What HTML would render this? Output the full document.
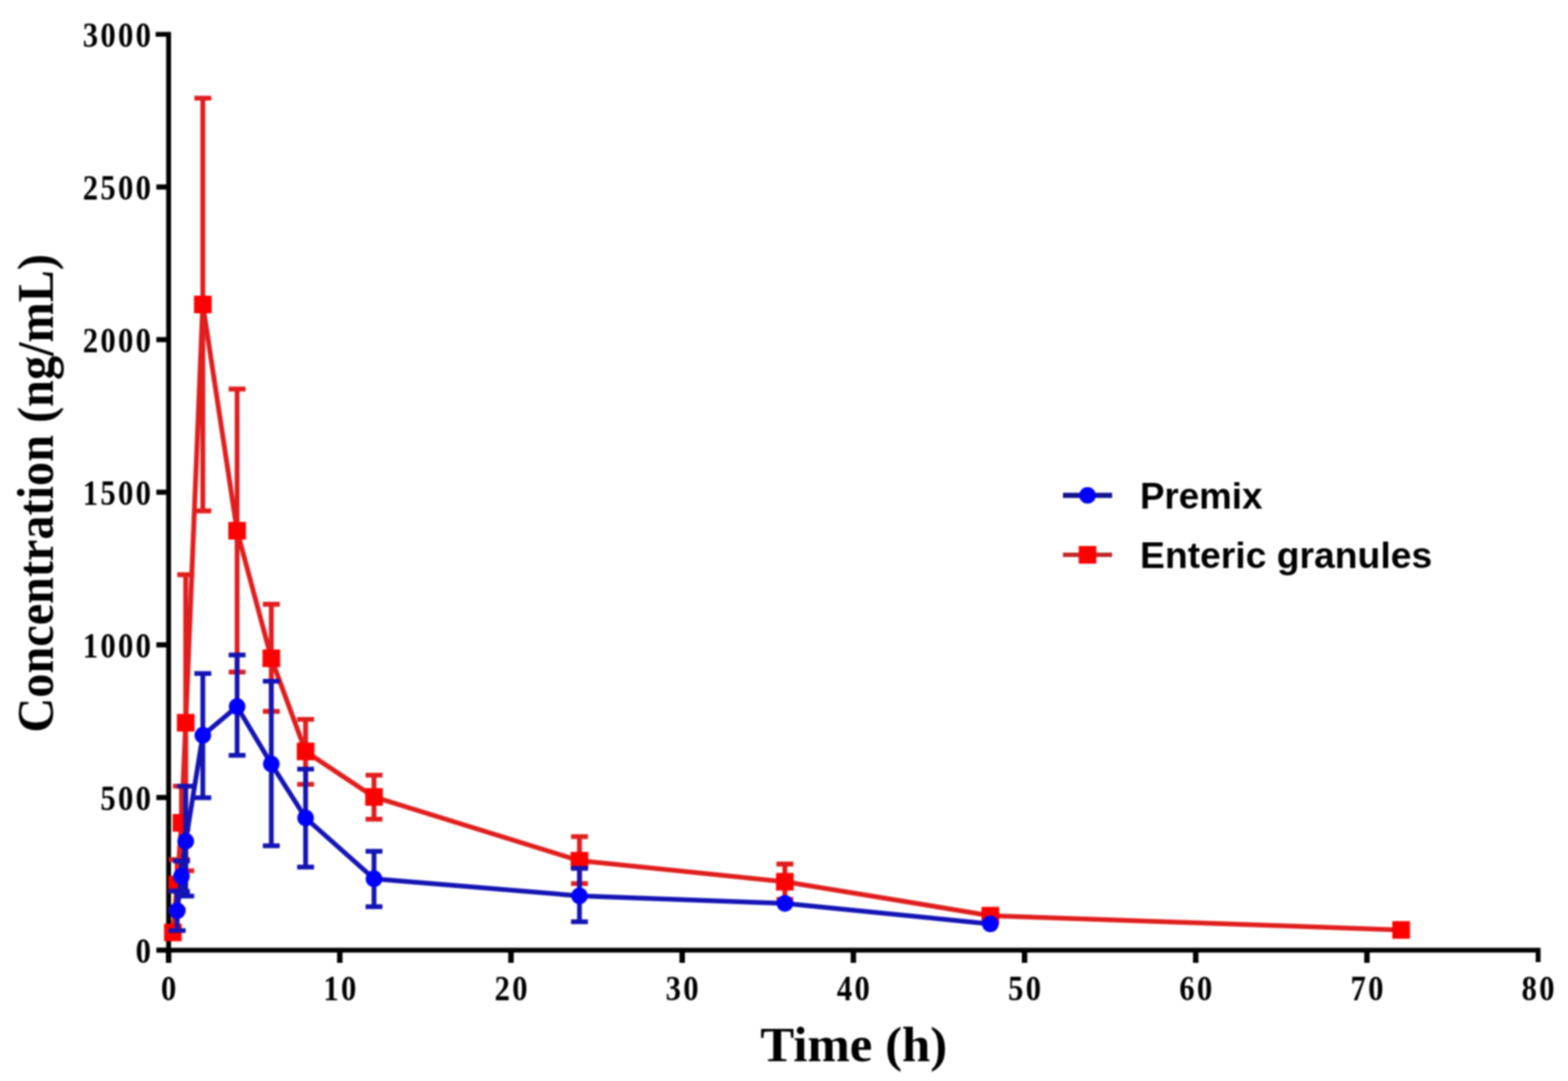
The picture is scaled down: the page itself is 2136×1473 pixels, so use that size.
<!DOCTYPE html>
<html><head><meta charset="utf-8"><title>Concentration vs Time</title>
<style>
html,body{margin:0;padding:0;background:#fff;}
body{width:2136px;height:1473px;overflow:hidden;}
svg{display:block;filter:blur(1.0px);}
.tk{font-family:"Liberation Serif",serif;font-weight:bold;font-size:48px;fill:#000;}
.ttl{font-family:"Liberation Serif",serif;font-weight:bold;font-size:70px;fill:#000;}
.ttl2{font-family:"Liberation Serif",serif;font-weight:bold;font-size:68px;fill:#000;}
.lg{font-family:"Liberation Sans",sans-serif;font-weight:bold;font-size:50px;fill:#000;}
</style></head>
<body>
<svg width="2136" height="1473" viewBox="0 0 2136 1473">
<rect width="2136" height="1473" fill="#fff"/>
<path d="M212 46.8H229.7V1294.7H2095.3V1311" stroke="#000" stroke-width="6.6" fill="none" stroke-linejoin="miter"/>
<path d="M213 1294.7H229.7" stroke="#000" stroke-width="7.0"/>
<path d="M213 1086.7H229.7" stroke="#000" stroke-width="7.0"/>
<path d="M213 878.7H229.7" stroke="#000" stroke-width="7.0"/>
<path d="M213 670.7H229.7" stroke="#000" stroke-width="7.0"/>
<path d="M213 462.8H229.7" stroke="#000" stroke-width="7.0"/>
<path d="M213 254.8H229.7" stroke="#000" stroke-width="7.0"/>
<path d="M229.7 1294.7V1312" stroke="#000" stroke-width="7.4"/>
<path d="M462.9 1294.7V1312" stroke="#000" stroke-width="7.4"/>
<path d="M696.1 1294.7V1312" stroke="#000" stroke-width="7.4"/>
<path d="M929.3 1294.7V1312" stroke="#000" stroke-width="7.4"/>
<path d="M1162.5 1294.7V1312" stroke="#000" stroke-width="7.4"/>
<path d="M1395.7 1294.7V1312" stroke="#000" stroke-width="7.4"/>
<path d="M1628.9 1294.7V1312" stroke="#000" stroke-width="7.4"/>
<path d="M1862.1 1294.7V1312" stroke="#000" stroke-width="7.4"/>
<text class="tk" transform="scale(0.87 1)" x="224.37" y="1312.0" text-anchor="middle">0</text>
<text class="tk" transform="scale(0.87 1)" x="169.20 196.78 224.37" y="1104.0" text-anchor="middle">500</text>
<text class="tk" transform="scale(0.87 1)" x="141.61 169.20 196.78 224.37" y="896.0" text-anchor="middle">1000</text>
<text class="tk" transform="scale(0.87 1)" x="141.61 169.20 196.78 224.37" y="688.0" text-anchor="middle">1500</text>
<text class="tk" transform="scale(0.87 1)" x="141.61 169.20 196.78 224.37" y="480.1" text-anchor="middle">2000</text>
<text class="tk" transform="scale(0.87 1)" x="141.61 169.20 196.78 224.37" y="272.1" text-anchor="middle">2500</text>
<text class="tk" transform="scale(0.87 1)" x="141.61 169.20 196.78 224.37" y="64.1" text-anchor="middle">3000</text>
<text class="tk" transform="scale(0.87 1)" x="264.02" y="1363.0" text-anchor="middle">0</text>
<text class="tk" transform="scale(0.87 1)" x="518.28 545.86" y="1363.0" text-anchor="middle">10</text>
<text class="tk" transform="scale(0.87 1)" x="786.32 813.91" y="1363.0" text-anchor="middle">20</text>
<text class="tk" transform="scale(0.87 1)" x="1054.37 1081.95" y="1363.0" text-anchor="middle">30</text>
<text class="tk" transform="scale(0.87 1)" x="1322.41 1350.00" y="1363.0" text-anchor="middle">40</text>
<text class="tk" transform="scale(0.87 1)" x="1590.46 1618.05" y="1363.0" text-anchor="middle">50</text>
<text class="tk" transform="scale(0.87 1)" x="1858.51 1886.09" y="1363.0" text-anchor="middle">60</text>
<text class="tk" transform="scale(0.87 1)" x="2126.55 2154.14" y="1363.0" text-anchor="middle">70</text>
<text class="tk" transform="scale(0.87 1)" x="2394.60 2422.18" y="1363.0" text-anchor="middle">80</text>
<text class="ttl" transform="translate(72 672.2) rotate(-90)" text-anchor="middle" textLength="652" lengthAdjust="spacingAndGlyphs">Concentration (ng/mL)</text>
<text class="ttl2" x="1163" y="1446" text-anchor="middle" textLength="254.5" lengthAdjust="spacingAndGlyphs">Time (h)</text>
<path d="M241.4 1171.2V1239.4M229.9 1171.2H252.9M229.9 1239.4H252.9" stroke="#e01e1e" stroke-width="6.6" fill="none"/>
<path d="M247.2 1071.3V1171.2M235.7 1071.3H258.7M235.7 1171.2H258.7" stroke="#e01e1e" stroke-width="6.6" fill="none"/>
<path d="M253.0 783.1V1186.5M241.5 783.1H264.5M241.5 1186.5H264.5" stroke="#e01e1e" stroke-width="6.6" fill="none"/>
<path d="M276.3 133.7V696.1M264.8 133.7H287.8M264.8 696.1H287.8" stroke="#e01e1e" stroke-width="6.6" fill="none"/>
<path d="M323.0 530.1V915.8M311.5 530.1H334.5M311.5 915.8H334.5" stroke="#e01e1e" stroke-width="6.6" fill="none"/>
<path d="M369.6 823.4V969.4M358.1 823.4H381.1M358.1 969.4H381.1" stroke="#e01e1e" stroke-width="6.6" fill="none"/>
<path d="M416.3 980.2V1068.8M404.8 980.2H427.8M404.8 1068.8H427.8" stroke="#e01e1e" stroke-width="6.6" fill="none"/>
<path d="M509.5 1056.3V1116.2M498.0 1056.3H521.0M498.0 1116.2H521.0" stroke="#e01e1e" stroke-width="6.6" fill="none"/>
<path d="M789.4 1140.0V1204.0M777.9 1140.0H800.9M777.9 1204.0H800.9" stroke="#e01e1e" stroke-width="6.6" fill="none"/>
<path d="M1069.2 1177.4V1225.6M1057.7 1177.4H1080.7M1057.7 1225.6H1080.7" stroke="#e01e1e" stroke-width="6.6" fill="none"/>
<polyline points="235.5,1270.6 241.4,1205.3 247.2,1121.2 253.0,984.8 276.3,414.9 323.0,723.2 369.6,897.0 416.3,1023.9 509.5,1085.9 789.4,1172.8 1069.2,1201.5 1349.1,1247.7 1908.7,1267.2" stroke="#e01e1e" stroke-width="6.6" fill="none" stroke-linejoin="round"/>
<rect x="223.5" y="1258.6" width="24" height="24" fill="#ff0000"/>
<rect x="229.4" y="1193.3" width="24" height="24" fill="#ff0000"/>
<rect x="235.2" y="1109.2" width="24" height="24" fill="#ff0000"/>
<rect x="241.0" y="972.8" width="24" height="24" fill="#ff0000"/>
<rect x="264.3" y="402.9" width="24" height="24" fill="#ff0000"/>
<rect x="311.0" y="711.2" width="24" height="24" fill="#ff0000"/>
<rect x="357.6" y="885.0" width="24" height="24" fill="#ff0000"/>
<rect x="404.3" y="1011.9" width="24" height="24" fill="#ff0000"/>
<rect x="497.5" y="1073.9" width="24" height="24" fill="#ff0000"/>
<rect x="777.4" y="1160.8" width="24" height="24" fill="#ff0000"/>
<rect x="1057.2" y="1189.5" width="24" height="24" fill="#ff0000"/>
<rect x="1337.1" y="1235.7" width="24" height="24" fill="#ff0000"/>
<rect x="1896.7" y="1255.2" width="24" height="24" fill="#ff0000"/>
<path d="M241.4 1214.0V1268.1M229.9 1214.0H252.9M229.9 1268.1H252.9" stroke="#1414b4" stroke-width="6.5" fill="none"/>
<path d="M247.2 1173.2V1214.8M235.7 1173.2H258.7M235.7 1214.8H258.7" stroke="#1414b4" stroke-width="6.5" fill="none"/>
<path d="M253.0 1071.3V1221.1M241.5 1071.3H264.5M241.5 1221.1H264.5" stroke="#1414b4" stroke-width="6.5" fill="none"/>
<path d="M276.3 917.8V1087.1M264.8 917.8H287.8M264.8 1087.1H287.8" stroke="#1414b4" stroke-width="6.5" fill="none"/>
<path d="M323.0 892.5V1029.3M311.5 892.5H334.5M311.5 1029.3H334.5" stroke="#1414b4" stroke-width="6.5" fill="none"/>
<path d="M369.6 928.2V1152.4M358.1 928.2H381.1M358.1 1152.4H381.1" stroke="#1414b4" stroke-width="6.5" fill="none"/>
<path d="M416.3 1048.0V1181.6M404.8 1048.0H427.8M404.8 1181.6H427.8" stroke="#1414b4" stroke-width="6.5" fill="none"/>
<path d="M509.5 1159.9V1235.6M498.0 1159.9H521.0M498.0 1235.6H521.0" stroke="#1414b4" stroke-width="6.5" fill="none"/>
<path d="M789.4 1183.2V1256.0M777.9 1183.2H800.9M777.9 1256.0H800.9" stroke="#1414b4" stroke-width="6.5" fill="none"/>
<polyline points="241.4,1241.0 247.2,1194.0 253.0,1146.2 276.3,1001.9 323.0,962.8 369.6,1041.0 416.3,1114.6 509.5,1197.4 789.4,1220.7 1069.2,1231.1 1349.1,1258.9" stroke="#1414b4" stroke-width="6.5" fill="none" stroke-linejoin="round"/>
<circle cx="241.4" cy="1241.0" r="11.3" fill="#0000ff"/>
<circle cx="247.2" cy="1194.0" r="11.3" fill="#0000ff"/>
<circle cx="253.0" cy="1146.2" r="11.3" fill="#0000ff"/>
<circle cx="276.3" cy="1001.9" r="11.3" fill="#0000ff"/>
<circle cx="323.0" cy="962.8" r="11.3" fill="#0000ff"/>
<circle cx="369.6" cy="1041.0" r="11.3" fill="#0000ff"/>
<circle cx="416.3" cy="1114.6" r="11.3" fill="#0000ff"/>
<circle cx="509.5" cy="1197.4" r="11.3" fill="#0000ff"/>
<circle cx="789.4" cy="1220.7" r="11.3" fill="#0000ff"/>
<circle cx="1069.2" cy="1231.1" r="11.3" fill="#0000ff"/>
<circle cx="1349.1" cy="1258.9" r="11.3" fill="#0000ff"/>
<path d="M1448 675H1515" stroke="#101090" stroke-width="7"/>
<circle cx="1481.5" cy="675" r="11.3" fill="#0000ff"/>
<path d="M1448 756H1515" stroke="#c02828" stroke-width="6"/>
<rect x="1469.5" y="744" width="24" height="24" fill="#ff0000"/>
<text class="lg" x="1553" y="693">Premix</text>
<text class="lg" x="1553" y="774" textLength="398" lengthAdjust="spacingAndGlyphs">Enteric granules</text>
</svg>
</body></html>
